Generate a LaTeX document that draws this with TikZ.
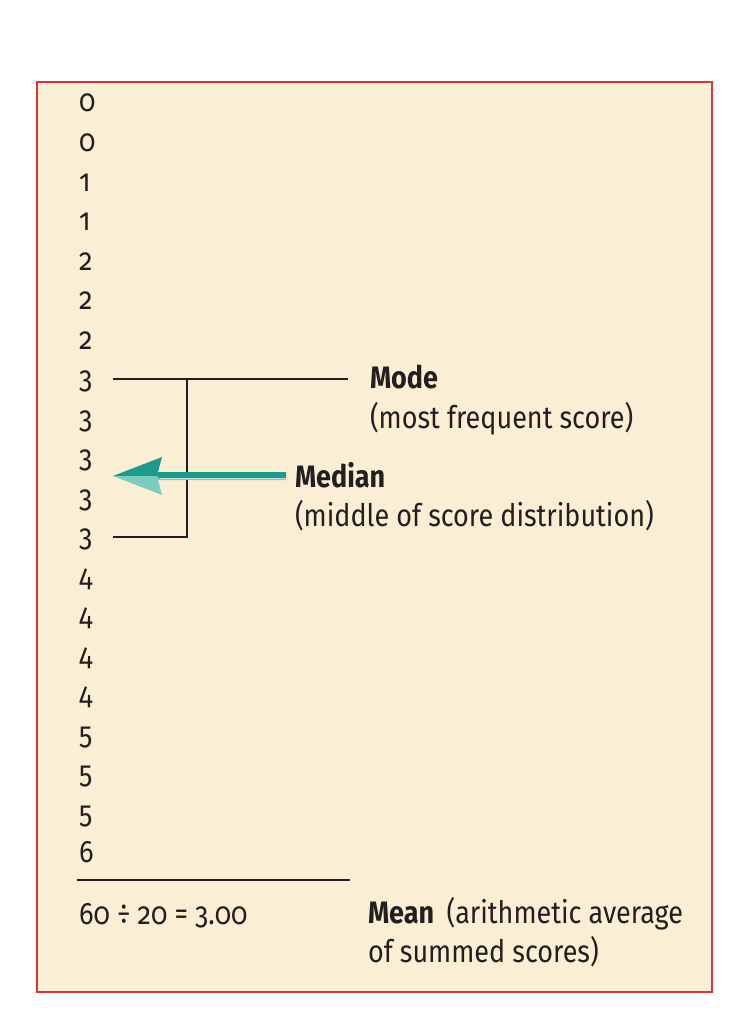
\documentclass[tikz,border=0pt]{standalone}
\usepackage{fontspec}
\setmainfont{Fira Sans}[Numbers=OldStyle,FakeStretch=0.87]
\definecolor{cream}{HTML}{FAEED4}
\definecolor{frame}{HTML}{D7343B}
\definecolor{ink}{HTML}{231F20}
\definecolor{tealdark}{HTML}{1E9A8B}
\definecolor{teallight}{HTML}{7CCBC0}
\begin{document}
\begin{tikzpicture}[x=1pt,y=-1pt,
  every node/.style={inner sep=0pt,outer sep=0pt,text=ink,font=\fontsize{31}{36}\selectfont},
  digit/.style={anchor=base west},
  lbl/.style={anchor=base west},
  rule/.style={draw=ink,line width=1.2pt}]
\useasboundingbox (0,0) rectangle (748,1030);
\fill[white] (0,0) rectangle (748,1030);
\draw[frame,fill=cream,line width=1.6pt] (37,82) rectangle (712,992);
% digits
\foreach \d [count=\i from 0] in {0,0,1,1,2,2,2,3,3,3,3,3,4,4,4,4,5,5,5,6}
  \node[digit] (n\i) at (79,{112+39.5*\i}) {\d};
% mode bracket
\coordinate (mL) at (113,379);
\coordinate (mV) at (187,379);
\coordinate (mR) at (348,379);
\coordinate (bL) at (113,537);
\coordinate (bV) at (187,537);
\draw[rule] (mL) -- (mR);
\draw[rule] (mV) -- (bV) -- (bL);
% labels
\node[lbl] (mode) at (370,388) {\textbf{Mode}};
\node[lbl] (modeD) at (370,428) {(most frequent score)};
\node[lbl] (median) at (295,487) {\textbf{Median}};
\node[lbl] (medianD) at (295,526) {(middle of score distribution)};
% arrow
\coordinate (tip) at (113,476);
\coordinate (tail) at (286,476);
\fill[tealdark] (tail) -- (286,472) -- (158,472) -- (162,457) -- (tip) -- cycle;
\fill[teallight] (tip) -- (162,495) -- (158,480) -- (286,480) -- (tail) -- cycle;
\fill[tealdark] (158,476) rectangle (286,478);
\draw[teallight!50!white,line width=0.7pt] (160,478.3) -- (286,478.3);
% bottom rule
\coordinate (rL) at (77,880);
\coordinate (rR) at (350,880);
\draw[rule] (rL) -- (rR);
\node[lbl] (sum) at (79,924) {60 ÷ 20 = 3.00};
\node[lbl] (mean) at (368,923) {\textbf{Mean}\hspace{0.4em}(arithmetic average};
\node[lbl] (meanD) at (368,962) {of summed scores)};
\end{tikzpicture}
\end{document}
